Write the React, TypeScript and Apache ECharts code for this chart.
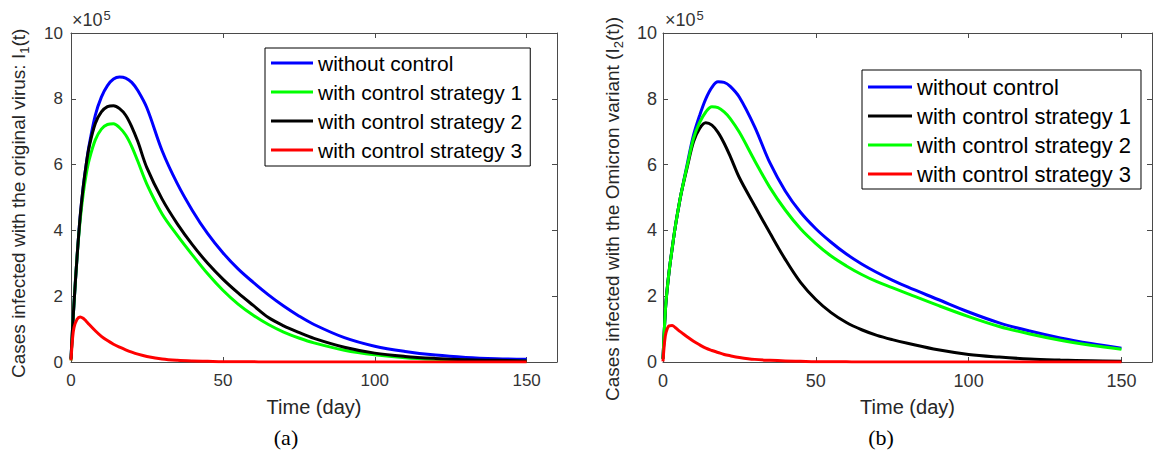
import React, { useEffect, useRef } from 'react';
import * as echarts from 'echarts';

// Time (day)
const TIME = [0, 0.5, 1, 2, 3, 4, 5, 6, 8, 10, 12, 14, 16, 18, 20, 22, 25, 30, 35, 40, 45, 50, 55, 60, 65, 70, 75, 80, 90, 100, 110, 120, 130, 140, 150];

// Panel (a): I1(t), in units of 10^5
const A_WITHOUT = [0.1, 1.0, 1.8, 3.2, 4.4, 5.3, 6.0, 6.6, 7.5, 8.05, 8.4, 8.6, 8.66, 8.63, 8.5, 8.25, 7.72, 6.42, 5.42, 4.6, 3.9, 3.32, 2.83, 2.42, 2.04, 1.7, 1.4, 1.14, 0.74, 0.48, 0.32, 0.21, 0.14, 0.1, 0.08];
const A_S1 = [0.05, 1.0, 1.8, 3.2, 4.3, 5.1, 5.7, 6.15, 6.75, 7.08, 7.22, 7.24, 7.12, 6.9, 6.55, 6.1, 5.4, 4.5, 3.85, 3.25, 2.68, 2.18, 1.76, 1.42, 1.14, 0.91, 0.73, 0.58, 0.36, 0.22, 0.13, 0.08, 0.05, 0.03, 0.02];
const A_S2 = [0.1, 1.0, 1.8, 3.2, 4.4, 5.3, 6.0, 6.55, 7.25, 7.6, 7.76, 7.79, 7.7, 7.5, 7.15, 6.7, 5.9, 4.95, 4.2, 3.56, 3.0, 2.52, 2.1, 1.72, 1.35, 1.1, 0.9, 0.72, 0.45, 0.27, 0.17, 0.11, 0.07, 0.05, 0.03];
const A_S3 = [0.05, 0.7, 1.05, 1.3, 1.37, 1.33, 1.24, 1.14, 0.95, 0.78, 0.65, 0.54, 0.45, 0.37, 0.3, 0.24, 0.17, 0.09, 0.05, 0.03, 0.02, 0.01, 0.01, 0.005, 0, 0, 0, 0, 0, 0, 0, 0, 0, 0, 0];

// Panel (b): I2(t), in units of 10^5
const B_WITHOUT = [0.1, 1.1, 1.85, 2.75, 3.45, 4.1, 4.65, 5.15, 6.05, 6.9, 7.5, 8.0, 8.35, 8.52, 8.5, 8.38, 8.05, 7.15, 6.05, 5.2, 4.55, 4.05, 3.64, 3.28, 2.98, 2.72, 2.49, 2.28, 1.9, 1.52, 1.19, 0.94, 0.73, 0.56, 0.42];
const B_S1 = [0.1, 1.1, 1.85, 2.75, 3.45, 4.1, 4.65, 5.15, 5.95, 6.7, 7.1, 7.27, 7.2, 6.98, 6.65, 6.25, 5.6, 4.75, 3.92, 3.12, 2.42, 1.9, 1.5, 1.2, 0.98, 0.81, 0.68, 0.57, 0.37, 0.23, 0.15, 0.09, 0.06, 0.04, 0.02];
const B_S2 = [0.1, 1.1, 1.85, 2.75, 3.45, 4.1, 4.65, 5.15, 6.0, 6.8, 7.28, 7.6, 7.76, 7.73, 7.6, 7.4, 6.98, 6.12, 5.3, 4.62, 4.05, 3.6, 3.22, 2.92, 2.66, 2.44, 2.26, 2.08, 1.72, 1.38, 1.08, 0.85, 0.66, 0.51, 0.39];
const B_S3 = [0.02, 0.6, 0.9, 1.1, 1.11, 1.05, 0.97, 0.9, 0.76, 0.63, 0.52, 0.42, 0.35, 0.29, 0.23, 0.19, 0.14, 0.08, 0.05, 0.03, 0.02, 0.01, 0.01, 0.005, 0, 0, 0, 0, 0, 0, 0, 0, 0, 0, 0];

const NAMES = ['without control', 'with control strategy 1', 'with control strategy 2', 'with control strategy 3'];
const X_TICKS = [0, 50, 100, 150];
const Y_TICKS = [0, 2, 4, 6, 8, 10];

const BLUE = '#0000ff';
const GREEN = '#00ff00';
const BLACK = '#000000';
const RED = '#ff0000';

const SANS = '"Liberation Sans", Arial, Helvetica, sans-serif';
const SERIF = '"Liberation Serif", "Times New Roman", serif';
const AXIS_COLOR = '#4a4a4a';
const LABEL_COLOR = '#333333';

const pairs = (ys: number[]) => TIME.map((t, i) => [t, ys[i]]);

export default function App() {
  const ref = useRef<HTMLDivElement>(null);

  useEffect(() => {
    if (!ref.current) return;
    const chart = echarts.init(ref.current, null, { renderer: 'svg' });

    const xBase = (grid: number, top: boolean, fontSize: number, name?: string) => ({
      type: 'value',
      gridIndex: grid,
      position: top ? 'top' : 'bottom',
      min: 0,
      max: 160,
      interval: 50,
      axisLine: { show: true, onZero: false, lineStyle: { color: AXIS_COLOR, width: 1 } },
      axisTick: { show: true, inside: true, length: 5, lineStyle: { color: AXIS_COLOR } },
      axisLabel: top
        ? { show: false }
        : {
            show: true,
            fontSize,
            fontFamily: SANS,
            color: LABEL_COLOR,
            margin: 10,
            showMaxLabel: false,
            formatter: (v: number) => (X_TICKS.includes(v) ? String(v) : ''),
          },
      splitLine: { show: false },
      name: name || '',
      nameLocation: 'middle',
      nameGap: 35,
      nameTextStyle: { fontSize: 20, fontFamily: SANS, color: '#262626' },
    });

    const yBase = (grid: number, right: boolean, margin: number, fontSize: number) => ({
      type: 'value',
      gridIndex: grid,
      position: right ? 'right' : 'left',
      min: 0,
      max: 10,
      interval: 2,
      axisLine: { show: true, onZero: false, lineStyle: { color: AXIS_COLOR, width: 1 } },
      axisTick: { show: true, inside: true, length: 5, lineStyle: { color: AXIS_COLOR } },
      axisLabel: right
        ? { show: false }
        : {
            show: true,
            fontSize,
            fontFamily: SANS,
            color: LABEL_COLOR,
            margin,
            formatter: (v: number) => (Y_TICKS.includes(v) ? String(v) : ''),
          },
      splitLine: { show: false },
    });

    const line = (name: string, data: number[], color: string, axis: number) => ({
      type: 'line',
      name,
      data: pairs(data),
      xAxisIndex: axis,
      yAxisIndex: axis,
      showSymbol: false,
      smooth: 0.35,
      lineStyle: { color, width: 3 },
      itemStyle: { color },
      emphasis: { disabled: true },
    });

    const legendBase = {
      orient: 'vertical',
      icon: 'rect',
      itemHeight: 3,
      borderColor: '#000',
      borderWidth: 1,
      backgroundColor: '#fff',
      selectedMode: false,
    };

    const option: any = {
      animation: false,
      backgroundColor: '#ffffff',
      grid: [
        { left: 71, top: 33, width: 486, height: 329 },
        { left: 663, top: 33, width: 489, height: 329 },
      ],
      xAxis: [
        xBase(0, false, 17, 'Time (day)'),
        xBase(0, true, 17),
        xBase(1, false, 18, 'Time (day)'),
        xBase(1, true, 18),
      ],
      yAxis: [yBase(0, false, 8, 17), yBase(0, true, 8, 17), yBase(1, false, 6, 18), yBase(1, true, 6, 18)],
      legend: [
        {
          ...legendBase,
          left: 265,
          top: 48,
          itemWidth: 42,
          itemGap: 8,
          padding: [4.5, 8, 5.5, 6],
          textStyle: { fontSize: 21, fontFamily: SANS, color: '#000' },
          data: [
            { name: NAMES[0], itemStyle: { color: BLUE } },
            { name: NAMES[1], itemStyle: { color: GREEN } },
            { name: NAMES[2], itemStyle: { color: BLACK } },
            { name: NAMES[3], itemStyle: { color: RED } },
          ],
        },
        {
          ...legendBase,
          left: 862,
          top: 70,
          itemWidth: 44,
          itemGap: 7,
          padding: [6, 10, 4, 6],
          textStyle: { fontSize: 22, fontFamily: SANS, color: '#000' },
          data: [
            { name: NAMES[0], itemStyle: { color: BLUE } },
            { name: NAMES[1], itemStyle: { color: BLACK } },
            { name: NAMES[2], itemStyle: { color: GREEN } },
            { name: NAMES[3], itemStyle: { color: RED } },
          ],
        },
      ],
      series: [
        line(NAMES[0], A_WITHOUT, BLUE, 0),
        line(NAMES[1], A_S1, GREEN, 0),
        line(NAMES[2], A_S2, BLACK, 0),
        line(NAMES[3], A_S3, RED, 0),
        line(NAMES[0], B_WITHOUT, BLUE, 2),
        line(NAMES[1], B_S1, BLACK, 2),
        line(NAMES[2], B_S2, GREEN, 2),
        line(NAMES[3], B_S3, RED, 2),
      ],
      graphic: [
        // exponent labels
        { type: 'text', x: 72, y: 29, style: { text: '×10', fontSize: 18, fontFamily: SANS, fill: LABEL_COLOR, verticalAlign: 'bottom' } },
        { type: 'text', x: 103.5, y: 22, style: { text: '5', fontSize: 13, fontFamily: SANS, fill: LABEL_COLOR, verticalAlign: 'bottom' } },
        { type: 'text', x: 665, y: 29, style: { text: '×10', fontSize: 18, fontFamily: SANS, fill: LABEL_COLOR, verticalAlign: 'bottom' } },
        { type: 'text', x: 696.5, y: 22, style: { text: '5', fontSize: 13, fontFamily: SANS, fill: LABEL_COLOR, verticalAlign: 'bottom' } },
        // y axis titles
        {
          type: 'text',
          x: 18,
          y: 378,
          rotation: Math.PI / 2,
          style: {
            text: 'Cases infected with the original virus: I{sub|1}(t)',
            fontSize: 19,
            fontFamily: SANS,
            fill: '#262626',
            align: 'left',
            verticalAlign: 'middle',
            lineHeight: 26,
            rich: {
              sub: { fontSize: 13, lineHeight: 13, verticalAlign: 'bottom', fontFamily: SANS, fill: '#262626' },
            },
          },
        },
        {
          type: 'text',
          x: 612,
          y: 401,
          rotation: Math.PI / 2,
          style: {
            text: 'Cases infected with the Omicron variant (I{sub|2}(t))',
            fontSize: 19,
            fontFamily: SANS,
            fill: '#262626',
            align: 'left',
            verticalAlign: 'middle',
            lineHeight: 26,
            rich: {
              sub: { fontSize: 13, lineHeight: 13, verticalAlign: 'bottom', fontFamily: SANS, fill: '#262626' },
            },
          },
        },
        // panel captions
        { type: 'text', x: 286, y: 437, style: { text: '(a)', fontSize: 22, fontFamily: SERIF, fill: '#000', align: 'center', verticalAlign: 'middle' } },
        { type: 'text', x: 881, y: 437, style: { text: '(b)', fontSize: 22, fontFamily: SERIF, fill: '#000', align: 'center', verticalAlign: 'middle' } },
      ],
    };

    chart.setOption(option);
    return () => chart.dispose();
  }, []);

  return <div ref={ref} style={{ position: 'fixed', left: 0, top: 0, width: 1153, height: 452 }} />;
}
